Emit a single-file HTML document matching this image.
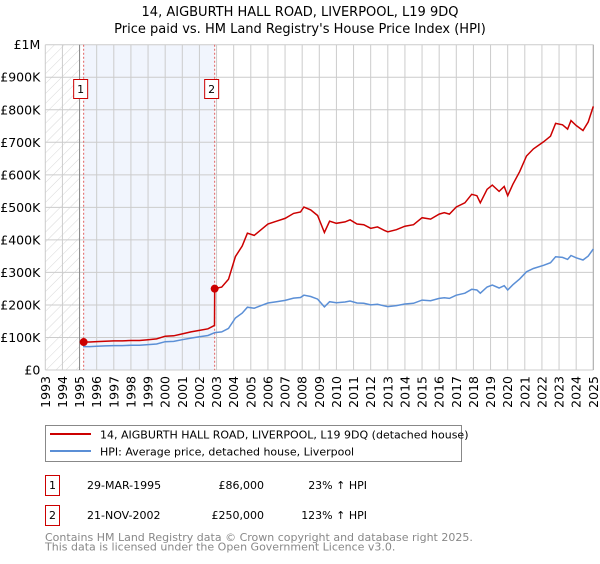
<!DOCTYPE html>
<html><head><meta charset="utf-8"><style>
body{margin:0;background:#fff;font-family:"DejaVu Sans","Liberation Sans",sans-serif;}
svg text{font-family:"DejaVu Sans","Liberation Sans",sans-serif;}
</style></head><body>
<svg id="c" width="600" height="560" xmlns="http://www.w3.org/2000/svg"></svg>
<script>
const yTickValues=[0,100000,200000,300000,400000,500000,600000,700000,800000,900000,1000000];
const yTickLabels=["£0","£100K","£200K","£300K","£400K","£500K","£600K","£700K","£800K","£900K","£1M"];
const xYears=[1993,1994,1995,1996,1997,1998,1999,2000,2001,2002,2003,2004,2005,2006,2007,2008,2009,2010,2011,2012,2013,2014,2015,2016,2017,2018,2019,2020,2021,2022,2023,2024,2025];
const hpiDates=[1995.2,1995.6,1996,1996.5,1997,1997.5,1998,1998.5,1999,1999.5,2000,2000.5,2001,2001.5,2002,2002.5,2002.9,2003.3,2003.7,2004.1,2004.5,2004.8,2005.2,2005.6,2006,2006.5,2007,2007.5,2007.9,2008.1,2008.5,2008.9,2009.3,2009.6,2010,2010.5,2010.8,2011.2,2011.6,2012,2012.4,2012.8,2013,2013.5,2014,2014.5,2015,2015.5,2016,2016.3,2016.6,2017,2017.5,2017.9,2018.2,2018.4,2018.8,2019.1,2019.5,2019.8,2020,2020.3,2020.7,2021.1,2021.5,2022.1,2022.5,2022.8,2023.2,2023.5,2023.7,2024,2024.4,2024.7,2025];
const hpiValues=[72000,72000,73000,74000,75000,75000,76000,76000,78000,80000,87000,88000,93000,98000,102000,106000,115000,117000,128000,160000,175000,193000,190000,198000,206000,210000,214000,221000,223000,230000,226000,218000,194000,210000,207000,209000,212000,206000,205000,200000,202000,197000,195000,198000,203000,205000,215000,213000,220000,222000,220000,230000,236000,248000,246000,236000,255000,261000,252000,259000,246000,262000,280000,302000,312000,322000,330000,348000,346000,340000,352000,345000,338000,350000,372000];
const saleDates=[1995.24,2002.89];
const salePrices=[86000,250000];
const saleLabels=["1","2"];

const svg=document.getElementById('c');
const NS='http://www.w3.org/2000/svg';
const X0=45.3,X1=593.3,Y0=370,Y1=44.7;
function xs(t){return X0+(t-1993)/(2025-1993)*(X1-X0);}
function ys(v){return Y0-v/1000000*(Y0-Y1);}
function mk(tag,attrs,parent){const e=document.createElementNS(NS,tag);for(const k in attrs)e.setAttribute(k,attrs[k]);(parent||svg).appendChild(e);return e;}
function hpiAt(t){for(let i=1;i<hpiDates.length;i++){if(t<=hpiDates[i]){const f=(t-hpiDates[i-1])/(hpiDates[i]-hpiDates[i-1]);return hpiValues[i-1]+f*(hpiValues[i]-hpiValues[i-1]);}}return hpiValues[hpiValues.length-1];}

let t=mk('text',{x:300,y:16,'text-anchor':'middle','font-size':'13',fill:'#000'});t.textContent='14, AIGBURTH HALL ROAD, LIVERPOOL, L19 9DQ';

t=mk('text',{x:300,y:33,'text-anchor':'middle','font-size':'13',fill:'#000'});t.textContent="Price paid vs. HM Land Registry's House Price Index (HPI)";


const defs=mk('defs',{});
const pat=mk('pattern',{id:'h',width:7,height:7,patternUnits:'userSpaceOnUse',patternTransform:'rotate(45)'},defs);
mk('line',{x1:0,y1:0,x2:0,y2:7,stroke:'#d8d8d8','stroke-width':1},pat);
let r=mk('rect',{x:X0,y:Y1,width:xs(1995)-X0,height:Y0-Y1,fill:'url(#h)'});

r=mk('rect',{x:xs(saleDates[0]),y:Y1,width:xs(saleDates[1])-xs(saleDates[0]),height:Y0-Y1,fill:'#eef3fc',opacity:0.8});


yTickValues.forEach((v,i)=>{
  const l=mk('line',{x1:X0,x2:X1,y1:ys(v),y2:ys(v),stroke:'#ccc','stroke-width':1});
  
  const tx=mk('text',{x:X0-5,y:ys(v)+4.5,'text-anchor':'end','font-size':'12.5',fill:'#000'});tx.textContent=yTickLabels[i];
  
});
xYears.forEach(yr=>{
  const l=mk('line',{x1:xs(yr),x2:xs(yr),y1:Y1,y2:Y0,stroke:'#ccc','stroke-width':1});
  
  const tx=mk('text',{x:0,y:0,'text-anchor':'end','font-size':'12.5',fill:'#000',transform:`translate(${xs(yr)+4.5},${Y0+6}) rotate(-90)`});tx.textContent=yr;
  
});
let ax=mk('line',{x1:xs(1995),x2:xs(1995),y1:Y1,y2:Y0,stroke:'#888','stroke-width':1});

ax=mk('line',{x1:X1,x2:X1,y1:Y1,y2:Y0,stroke:'#aaa','stroke-width':1});


saleDates.forEach((d,i)=>{
  const l=mk('line',{x1:xs(d),x2:xs(d),y1:Y1,y2:Y0,stroke:'#e06060','stroke-width':1,'stroke-dasharray':'2,2'});
  
  const g=mk('g',{});
  
  mk('rect',{x:xs(d)-10,y:79.5,width:14,height:19,fill:'#fff',stroke:'#c00','stroke-width':1},g);
  const tx=mk('text',{x:xs(d)-3,y:93,'text-anchor':'middle','font-size':'11',fill:'#000'},g);tx.textContent=saleLabels[i];
});

let pts=hpiDates.map((d,i)=>xs(d).toFixed(1)+','+ys(hpiValues[i]).toFixed(1)).join(' ');
let pl=mk('polyline',{points:pts,fill:'none',stroke:'#5b8fd6','stroke-width':1.5});


const ratios=saleDates.map((d,i)=>salePrices[i]/hpiAt(d));
let rp=[];
rp.push([saleDates[0],salePrices[0]]);
hpiDates.forEach((d,i)=>{
  if(d>saleDates[0]&&d<saleDates[1])rp.push([d,hpiValues[i]*ratios[0]]);
});
rp.push([saleDates[1]-0.01,hpiAt(saleDates[1])*ratios[0]]);
rp.push([saleDates[1],salePrices[1]]);
hpiDates.forEach((d,i)=>{if(d>saleDates[1])rp.push([d,hpiValues[i]*ratios[1]]);});
pts=rp.map(p=>xs(p[0]).toFixed(1)+','+ys(p[1]).toFixed(1)).join(' ');
pl=mk('polyline',{points:pts,fill:'none',stroke:'#cc0000','stroke-width':1.5});

saleDates.forEach((d,i)=>{
  const c=mk('circle',{cx:xs(d),cy:ys(salePrices[i]),r:4,fill:'#cc0000'});
  
});

const lg=mk('g',{});

mk('rect',{x:45.5,y:425.5,width:416,height:36,fill:'#fff',stroke:'#888','stroke-width':1},lg);
mk('line',{x1:50,x2:91,y1:434,y2:434,stroke:'#cc0000','stroke-width':2},lg);
mk('line',{x1:50,x2:91,y1:451,y2:451,stroke:'#5b8fd6','stroke-width':2},lg);
t=mk('text',{x:100,y:438.5,'font-size':'11',fill:'#000'},lg);t.textContent='14, AIGBURTH HALL ROAD, LIVERPOOL, L19 9DQ (detached house)';

t=mk('text',{x:100,y:455.5,'font-size':'11',fill:'#000'},lg);t.textContent='HPI: Average price, detached house, Liverpool';


const rows=[["1","29-MAR-1995","£86,000","23% ↑ HPI",485],["2","21-NOV-2002","£250,000","123% ↑ HPI",515]];
rows.forEach(rw=>{
  const g=mk('g',{});
  
  mk('rect',{x:45.5,y:rw[4]-9.5,width:14,height:20,fill:'#fff',stroke:'#c00','stroke-width':1},g);
  let a=mk('text',{x:52.5,y:rw[4]+4,'text-anchor':'middle','font-size':'11',fill:'#000'},g);a.textContent=rw[0];
  a=mk('text',{x:87,y:rw[4]+4,'font-size':'11',fill:'#000'},g);a.textContent=rw[1];
  a=mk('text',{x:264,y:rw[4]+4,'text-anchor':'end','font-size':'11',fill:'#000'},g);a.textContent=rw[2];
  a=mk('text',{x:367,y:rw[4]+4,'text-anchor':'end','font-size':'11',fill:'#000'},g);a.textContent=rw[3];
});
t=mk('text',{x:45,y:541,'font-size':'11',fill:'#888'});t.textContent='Contains HM Land Registry data © Crown copyright and database right 2025.';

t=mk('text',{x:45,y:550.5,'font-size':'11',fill:'#888'});t.textContent='This data is licensed under the Open Government Licence v3.0.';

</script>
</body></html>
